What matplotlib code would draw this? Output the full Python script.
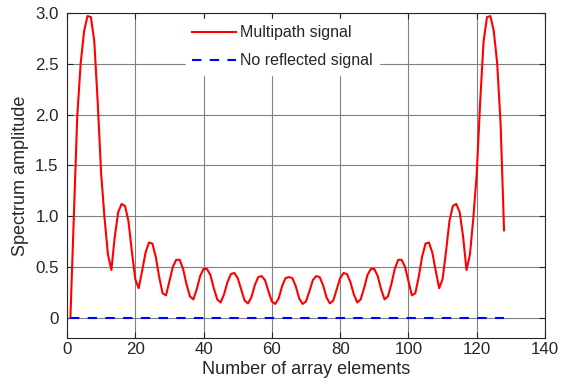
import matplotlib
matplotlib.use("Agg")
import matplotlib.pyplot as plt
import numpy as np

plt.rcParams['font.family'] = ['Liberation Sans', 'DejaVu Sans']

# array element index
elements = np.arange(1, 129)

# multipath spectrum amplitude (elements 1..128)
multipath = [
    0.00, 1.00, 1.98, 2.50, 2.82, 2.97, 2.96, 2.72, 2.12, 1.42,
    0.98, 0.62, 0.47, 0.80, 1.04, 1.12, 1.10, 0.95, 0.65, 0.38,
    0.29, 0.46, 0.64, 0.74, 0.73, 0.60, 0.40, 0.24, 0.22, 0.36,
    0.50, 0.57, 0.57, 0.48, 0.33, 0.21, 0.18, 0.28, 0.41, 0.48,
    0.48, 0.42, 0.29, 0.18, 0.15, 0.23, 0.35, 0.43, 0.44, 0.39,
    0.28, 0.17, 0.14, 0.20, 0.32, 0.40, 0.41, 0.37, 0.26, 0.16,
    0.135, 0.19, 0.31, 0.39, 0.40, 0.39, 0.31, 0.19, 0.135, 0.16,
    0.26, 0.37, 0.41, 0.40, 0.32, 0.20, 0.14, 0.17, 0.28, 0.39,
    0.44, 0.43, 0.35, 0.23, 0.15, 0.18, 0.29, 0.42, 0.48, 0.48,
    0.41, 0.28, 0.18, 0.21, 0.33, 0.48, 0.57, 0.57, 0.50, 0.36,
    0.22, 0.24, 0.40, 0.60, 0.73, 0.74, 0.64, 0.46, 0.29, 0.38,
    0.65, 0.95, 1.10, 1.12, 1.04, 0.80, 0.47, 0.62, 0.98, 1.42,
    2.12, 2.72, 2.96, 2.97, 2.82, 2.50, 1.90, 0.86,
]
# direct path only
no_reflect = [0.0] * 128

xticks = [0, 20, 40, 60, 80, 100, 120, 140]
yticks = [0, 0.5, 1.0, 1.5, 2.0, 2.5, 3.0]
ytick_labels = ['0', '0.5', '1.0', '1.5', '2.0', '2.5', '3.0']

fig = plt.figure(figsize=(5.62, 3.83), dpi=100)
ax = fig.add_axes([0.1192, 0.1175, 0.8506, 0.8485])

ax.plot(elements, multipath, color='red', lw=1.5, label='Multipath signal')
ax.plot(elements, no_reflect, color='blue', lw=1.5, ls=(0, (4.5, 4)),
        label='No reflected signal')

ax.set_xlim(0, 140)
ax.set_ylim(-0.2, 3.0)
ax.set_xticks(xticks)
ax.set_yticks(yticks)
ax.set_yticklabels(ytick_labels)
ax.grid(True, color='#808080', lw=0.8)
ax.set_axisbelow(True)
ax.tick_params(direction='in', top=True, right=True, length=4, width=0.8,
               labelsize=12.2, colors='#262626')
ax.tick_params(axis='y', pad=6)
ax.tick_params(axis='x', pad=3)
for s in ax.spines.values():
    s.set_color('#262626')
    s.set_linewidth(0.8)

ax.set_xlabel('Number of array elements', fontsize=13, color='#262626', labelpad=2.5)
ax.set_ylabel('Spectrum amplitude', fontsize=13, color='#262626', labelpad=4)

leg = ax.legend(loc='upper left', bbox_to_anchor=(0.249, 0.982), fontsize=11.5,
                frameon=True, framealpha=1, edgecolor='white', fancybox=False,
                handlelength=2.75, handletextpad=0.2, borderpad=0.4,
                labelspacing=0.82, borderaxespad=0)
for t in leg.get_texts():
    t.set_color('#262626')

plt.savefig('out.png', dpi=100)
